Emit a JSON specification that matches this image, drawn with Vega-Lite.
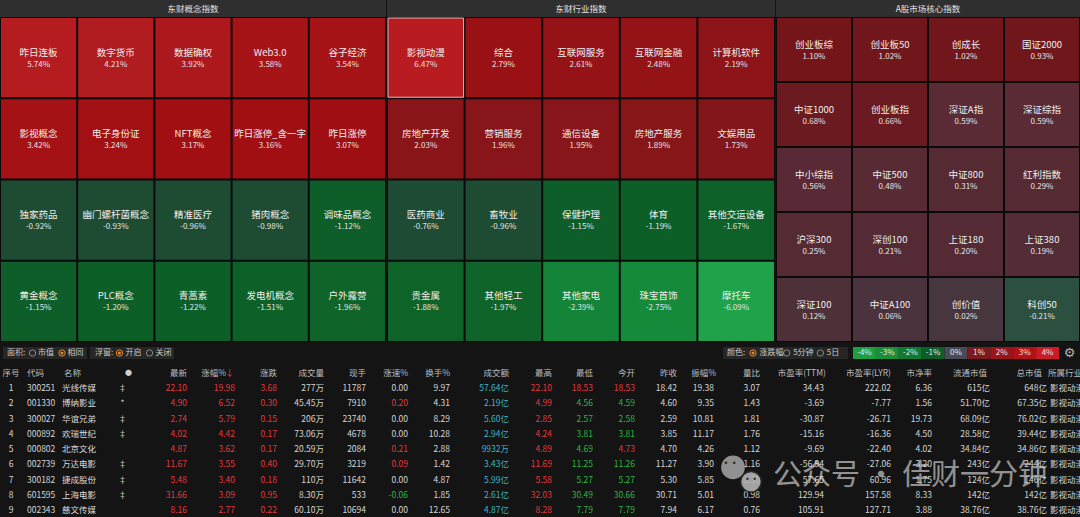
{
"$schema": "https://vega.github.io/schema/vega-lite/v6.json",
"background": "#141414",
"padding": 0,
"spacing": 0,
"config": {"font": "Noto Sans CJK SC", "view": {"stroke": null}, "axis": {"disable": true}, "legend": {"disable": true}},
"datasets": {
 "concept": [
  {"name": "昨日连板", "pct": 5.74}, {"name": "数字货币", "pct": 4.21}, {"name": "数据确权", "pct": 3.92}, {"name": "Web3.0", "pct": 3.58}, {"name": "谷子经济", "pct": 3.54},
  {"name": "影视概念", "pct": 3.42}, {"name": "电子身份证", "pct": 3.24}, {"name": "NFT概念", "pct": 3.17}, {"name": "昨日涨停_含一字", "pct": 3.16}, {"name": "昨日涨停", "pct": 3.07},
  {"name": "独家药品", "pct": -0.92}, {"name": "幽门螺杆菌概念", "pct": -0.93}, {"name": "精准医疗", "pct": -0.96}, {"name": "猪肉概念", "pct": -0.98}, {"name": "调味品概念", "pct": -1.12},
  {"name": "黄金概念", "pct": -1.15}, {"name": "PLC概念", "pct": -1.20}, {"name": "青蒿素", "pct": -1.22}, {"name": "发电机概念", "pct": -1.51}, {"name": "户外露营", "pct": -1.96}
 ],
 "industry": [
  {"name": "影视动漫", "pct": 6.47}, {"name": "综合", "pct": 2.79}, {"name": "互联网服务", "pct": 2.61}, {"name": "互联网金融", "pct": 2.48}, {"name": "计算机软件", "pct": 2.19},
  {"name": "房地产开发", "pct": 2.03}, {"name": "营销服务", "pct": 1.96}, {"name": "通信设备", "pct": 1.95}, {"name": "房地产服务", "pct": 1.89}, {"name": "文娱用品", "pct": 1.73},
  {"name": "医药商业", "pct": -0.76}, {"name": "畜牧业", "pct": -0.96}, {"name": "保健护理", "pct": -1.15}, {"name": "体育", "pct": -1.19}, {"name": "其他交运设备", "pct": -1.67},
  {"name": "贵金属", "pct": -1.88}, {"name": "其他轻工", "pct": -1.97}, {"name": "其他家电", "pct": -2.39}, {"name": "珠宝首饰", "pct": -2.75}, {"name": "摩托车", "pct": -6.09}
 ],
 "core": [
  {"name": "创业板综", "pct": 1.10}, {"name": "创业板50", "pct": 1.02}, {"name": "创成长", "pct": 1.02}, {"name": "国证2000", "pct": 0.93},
  {"name": "中证1000", "pct": 0.68}, {"name": "创业板指", "pct": 0.66}, {"name": "深证A指", "pct": 0.59}, {"name": "深证综指", "pct": 0.59},
  {"name": "中小综指", "pct": 0.56}, {"name": "中证500", "pct": 0.48}, {"name": "中证800", "pct": 0.31}, {"name": "红利指数", "pct": 0.29},
  {"name": "沪深300", "pct": 0.25}, {"name": "深创100", "pct": 0.21}, {"name": "上证180", "pct": 0.20}, {"name": "上证380", "pct": 0.19},
  {"name": "深证100", "pct": 0.12}, {"name": "中证A100", "pct": 0.06}, {"name": "创价值", "pct": 0.02}, {"name": "科创50", "pct": -0.21}
 ],
 "stocks": [
  {"no": 1, "code": "300251", "name": "光线传媒", "flag": "‡", "last": "22.10", "chg_pct": "19.98", "chg": "3.68", "vol": "277万", "cur_vol": "11787", "speed": "0.00", "turnover": "9.97", "amount": "57.64亿", "high": "22.10", "low": "18.53", "open": "18.53", "prev": "18.42", "amp": "19.38", "vol_ratio": "3.07", "pe_ttm": "34.43", "pe_lyr": "222.02", "pb": "6.36", "float_cap": "615亿", "total_cap": "648亿", "industry": "影视动漫"},
  {"no": 2, "code": "001330", "name": "博纳影业", "flag": "*", "last": "4.90", "chg_pct": "6.52", "chg": "0.30", "vol": "45.45万", "cur_vol": "7910", "speed": "0.20", "turnover": "4.31", "amount": "2.19亿", "high": "4.99", "low": "4.56", "open": "4.59", "prev": "4.60", "amp": "9.35", "vol_ratio": "1.43", "pe_ttm": "-3.69", "pe_lyr": "-7.77", "pb": "1.56", "float_cap": "51.70亿", "total_cap": "67.35亿", "industry": "影视动漫"},
  {"no": 3, "code": "300027", "name": "华谊兄弟", "flag": "‡", "last": "2.74", "chg_pct": "5.79", "chg": "0.15", "vol": "206万", "cur_vol": "23740", "speed": "0.00", "turnover": "8.29", "amount": "5.60亿", "high": "2.85", "low": "2.57", "open": "2.58", "prev": "2.59", "amp": "10.81", "vol_ratio": "1.81", "pe_ttm": "-30.87", "pe_lyr": "-26.71", "pb": "19.73", "float_cap": "68.09亿", "total_cap": "76.02亿", "industry": "影视动漫"},
  {"no": 4, "code": "000892", "name": "欢瑞世纪", "flag": "‡", "last": "4.02", "chg_pct": "4.42", "chg": "0.17", "vol": "73.06万", "cur_vol": "4678", "speed": "0.00", "turnover": "10.28", "amount": "2.94亿", "high": "4.24", "low": "3.81", "open": "3.81", "prev": "3.85", "amp": "11.17", "vol_ratio": "1.76", "pe_ttm": "-15.16", "pe_lyr": "-16.36", "pb": "4.50", "float_cap": "28.58亿", "total_cap": "39.44亿", "industry": "影视动漫"},
  {"no": 5, "code": "000802", "name": "北京文化", "flag": "", "last": "4.87", "chg_pct": "3.62", "chg": "0.17", "vol": "20.59万", "cur_vol": "2084", "speed": "0.21", "turnover": "2.88", "amount": "9932万", "high": "4.89", "low": "4.69", "open": "4.73", "prev": "4.70", "amp": "4.26", "vol_ratio": "1.12", "pe_ttm": "-9.69", "pe_lyr": "-22.40", "pb": "4.02", "float_cap": "34.84亿", "total_cap": "34.86亿", "industry": "影视动漫"},
  {"no": 6, "code": "002739", "name": "万达电影", "flag": "‡", "last": "11.67", "chg_pct": "3.55", "chg": "0.40", "vol": "29.70万", "cur_vol": "3219", "speed": "0.09", "turnover": "1.42", "amount": "3.43亿", "high": "11.69", "low": "11.25", "open": "11.26", "prev": "11.27", "amp": "3.90", "vol_ratio": "1.16", "pe_ttm": "-56.94", "pe_lyr": "-27.06", "pb": "3.20", "float_cap": "243亿", "total_cap": "244亿", "industry": "影视动漫"},
  {"no": 7, "code": "300182", "name": "捷成股份", "flag": "‡", "last": "5.48", "chg_pct": "3.40", "chg": "0.18", "vol": "110万", "cur_vol": "11642", "speed": "0.00", "turnover": "4.87", "amount": "5.99亿", "high": "5.58", "low": "5.27", "open": "5.27", "prev": "5.30", "amp": "5.85", "vol_ratio": "1.30", "pe_ttm": "57.65", "pe_lyr": "60.96", "pb": "1.75", "float_cap": "124亿", "total_cap": "146亿", "industry": "影视动漫"},
  {"no": 8, "code": "601595", "name": "上海电影", "flag": "‡", "last": "31.66", "chg_pct": "3.09", "chg": "0.95", "vol": "8.30万", "cur_vol": "533", "speed": "-0.06", "turnover": "1.85", "amount": "2.61亿", "high": "32.03", "low": "30.49", "open": "30.66", "prev": "30.71", "amp": "5.01", "vol_ratio": "0.98", "pe_ttm": "129.94", "pe_lyr": "157.58", "pb": "8.33", "float_cap": "142亿", "total_cap": "142亿", "industry": "影视动漫"},
  {"no": 9, "code": "002343", "name": "慈文传媒", "flag": "", "last": "8.16", "chg_pct": "2.77", "chg": "0.22", "vol": "60.10万", "cur_vol": "10694", "speed": "0.00", "turnover": "12.65", "amount": "4.87亿", "high": "8.28", "low": "7.79", "open": "7.79", "prev": "7.94", "amp": "6.17", "vol_ratio": "0.76", "pe_ttm": "105.91", "pe_lyr": "127.71", "pb": "3.88", "float_cap": "38.76亿", "total_cap": "38.76亿", "industry": "影视动漫"}
 ]
},
"vconcat": [
 {"hconcat": [
  {"vconcat": [
   {"width": 386, "height": 17, "view": {"fill": "#2f2f2f"}, "data": {"values": [{"t": "东财概念指数"}]}, "mark": {"type": "text", "fontSize": 8.5, "color": "#e2e2e2"}, "encoding": {"text": {"field": "t"}}},
   {"width": 386, "height": 325, "view": {"fill": "#0b0b0b"}, "data": {"name": "concept"},
    "transform": [{"window": [{"op": "row_number", "as": "rank"}]}, {"calculate": "(datum.rank - 1) % 5", "as": "col"}, {"calculate": "floor((datum.rank - 1) / 5)", "as": "row"}, {"calculate": "(datum.pct < 0 ? '-' : '') + format(abs(datum.pct), '.2f') + '%'", "as": "label"}],
    "encoding": {"x": {"field": "col", "type": "ordinal", "axis": null, "scale": {"paddingInner": 0.026, "paddingOuter": 0.013}}, "y": {"field": "row", "type": "ordinal", "axis": null, "scale": {"paddingInner": 0.025, "paddingOuter": 0.0125}}},
    "layer": [
     {"mark": {"type": "rect"}, "encoding": {"color": {"field": "pct", "type": "quantitative", "legend": null, "scale": {"type": "linear", "interpolate": "rgb", "domain": [-6.1, -2.7, -2.3, -2.0, -1.1, -1.0, -0.7, -0.3, 0, 0.22, 0.6, 0.64, 1.1, 1.75, 2.6, 3.1, 4.2, 6.5], "range": ["#1fa24a", "#168a3b", "#138437", "#0e6429", "#0d5e28", "#1d4c33", "#1e4b34", "#1f5a3f", "#46373f", "#552a33", "#5a2a35", "#6a1a20", "#731519", "#84161a", "#951316", "#a00e12", "#b01c20", "#b81c20"]}}}},
     {"mark": {"type": "text", "dy": -5, "fontSize": 9.5, "color": "#eeeeee"}, "encoding": {"text": {"field": "name"}}},
     {"mark": {"type": "text", "dy": 7, "fontSize": 8, "color": "#e2e2e2"}, "encoding": {"text": {"field": "label"}}}
    ]}
  ], "spacing": 0, "bounds": "flush"},
  {"vconcat": [
   {"width": 388, "height": 17, "view": {"fill": "#2f2f2f"}, "data": {"values": [{"t": "东财行业指数"}]}, "mark": {"type": "text", "fontSize": 8.5, "color": "#e2e2e2"}, "encoding": {"text": {"field": "t"}}},
   {"width": 388, "height": 325, "view": {"fill": "#0b0b0b"}, "data": {"name": "industry"},
    "transform": [{"window": [{"op": "row_number", "as": "rank"}]}, {"calculate": "(datum.rank - 1) % 5", "as": "col"}, {"calculate": "floor((datum.rank - 1) / 5)", "as": "row"}, {"calculate": "(datum.pct < 0 ? '-' : '') + format(abs(datum.pct), '.2f') + '%'", "as": "label"}],
    "encoding": {"x": {"field": "col", "type": "ordinal", "axis": null, "scale": {"paddingInner": 0.026, "paddingOuter": 0.013}}, "y": {"field": "row", "type": "ordinal", "axis": null, "scale": {"paddingInner": 0.025, "paddingOuter": 0.0125}}},
    "layer": [
     {"mark": {"type": "rect"}, "encoding": {"color": {"field": "pct", "type": "quantitative", "legend": null, "scale": {"type": "linear", "interpolate": "rgb", "domain": [-6.1, -2.7, -2.3, -2.0, -1.1, -1.0, -0.7, -0.3, 0, 0.22, 0.6, 0.64, 1.1, 1.75, 2.6, 3.1, 4.2, 6.5], "range": ["#1fa24a", "#168a3b", "#138437", "#0e6429", "#0d5e28", "#1d4c33", "#1e4b34", "#1f5a3f", "#46373f", "#552a33", "#5a2a35", "#6a1a20", "#731519", "#84161a", "#951316", "#a00e12", "#b01c20", "#b81c20"]}}}},
     {"transform": [{"filter": "datum.name === '影视动漫'"}], "mark": {"type": "rect", "filled": false, "stroke": "#dcbcbc", "strokeWidth": 1}},
     {"mark": {"type": "text", "dy": -5, "fontSize": 9.5, "color": "#eeeeee"}, "encoding": {"text": {"field": "name"}}},
     {"mark": {"type": "text", "dy": 7, "fontSize": 8, "color": "#e2e2e2"}, "encoding": {"text": {"field": "label"}}}
    ]}
  ], "spacing": 0, "bounds": "flush"},
  {"vconcat": [
   {"width": 304, "height": 17, "view": {"fill": "#2f2f2f"}, "data": {"values": [{"t": "A股市场核心指数"}]}, "mark": {"type": "text", "fontSize": 8.5, "color": "#e2e2e2"}, "encoding": {"text": {"field": "t"}}},
   {"width": 304, "height": 325, "view": {"fill": "#0b0b0b"}, "data": {"name": "core"},
    "transform": [{"window": [{"op": "row_number", "as": "rank"}]}, {"calculate": "(datum.rank - 1) % 4", "as": "col"}, {"calculate": "floor((datum.rank - 1) / 4)", "as": "row"}, {"calculate": "(datum.pct < 0 ? '-' : '') + format(abs(datum.pct), '.2f') + '%'", "as": "label"}],
    "encoding": {"x": {"field": "col", "type": "ordinal", "axis": null, "scale": {"paddingInner": 0.026, "paddingOuter": 0.013}}, "y": {"field": "row", "type": "ordinal", "axis": null, "scale": {"paddingInner": 0.03, "paddingOuter": 0.015}}},
    "layer": [
     {"mark": {"type": "rect"}, "encoding": {"color": {"field": "pct", "type": "quantitative", "legend": null, "scale": {"type": "linear", "interpolate": "rgb", "domain": [-6.1, -2.7, -2.3, -2.0, -1.1, -1.0, -0.7, -0.3, 0, 0.22, 0.6, 0.64, 1.1, 1.75, 2.6, 3.1, 4.2, 6.5], "range": ["#1fa24a", "#168a3b", "#138437", "#0e6429", "#0d5e28", "#1d4c33", "#1e4b34", "#1f5a3f", "#46373f", "#552a33", "#5a2a35", "#6a1a20", "#731519", "#84161a", "#951316", "#a00e12", "#b01c20", "#b81c20"]}}}},
     {"mark": {"type": "text", "dy": -5, "fontSize": 9.5, "color": "#eeeeee"}, "encoding": {"text": {"field": "name"}}},
     {"mark": {"type": "text", "dy": 7, "fontSize": 8, "color": "#e2e2e2"}, "encoding": {"text": {"field": "label"}}}
    ]}
  ], "spacing": 0, "bounds": "flush"}
 ], "spacing": 1},
 {"vconcat": [
  {"width": 1080, "height": 5, "data": {"values": []}, "mark": "text", "encoding": {}},
  {"hconcat": [
   {"width": 3, "height": 12, "data": {"values": []}, "mark": "text", "encoding": {}},
   {"width": 25, "height": 12, "view": {"fill": "#262626"}, "data": {"values": [{"t": "面积:"}]}, "mark": {"type": "text", "align": "left", "dx": 4, "fontSize": 8, "color": "#c8c8c8"}, "encoding": {"x": {"field": "t", "type": "nominal", "axis": null, "scale": {"type": "point", "padding": 0, "align": 0}}, "text": {"field": "t"}}},
   {"width": 59, "height": 12, "view": {"fill": "#262626"}, "data": {"values": [{"item": "市值", "on": false}, {"item": "相同", "on": true}]},
    "encoding": {"x": {"field": "item", "type": "nominal", "sort": null, "axis": null, "scale": {"type": "point", "padding": 0.5, "align": 0}}},
    "layer": [
     {"mark": {"type": "point", "shape": "circle", "size": 40, "filled": false, "strokeWidth": 1, "xOffset": 4.5, "opacity": 1}, "encoding": {"stroke": {"condition": {"test": "datum.on", "value": "#e8892b"}, "value": "#8a8a8a"}}},
     {"transform": [{"filter": "datum.on"}], "mark": {"type": "point", "shape": "circle", "size": 10, "filled": true, "color": "#e8892b", "xOffset": 4.5, "opacity": 1}},
     {"mark": {"type": "text", "align": "left", "dx": 10, "fontSize": 8, "color": "#c8c8c8"}, "encoding": {"text": {"field": "item"}}}
    ]},
   {"width": 3, "height": 12, "data": {"values": []}, "mark": "text", "encoding": {}},
   {"width": 24, "height": 12, "view": {"fill": "#262626"}, "data": {"values": [{"t": "浮窗:"}]}, "mark": {"type": "text", "align": "left", "dx": 5, "fontSize": 8, "color": "#c8c8c8"}, "encoding": {"x": {"field": "t", "type": "nominal", "axis": null, "scale": {"type": "point", "padding": 0, "align": 0}}, "text": {"field": "t"}}},
   {"width": 60, "height": 12, "view": {"fill": "#262626"}, "data": {"values": [{"item": "开启", "on": true}, {"item": "关闭", "on": false}]},
    "encoding": {"x": {"field": "item", "type": "nominal", "sort": null, "axis": null, "scale": {"type": "point", "padding": 0.5, "align": 0}}},
    "layer": [
     {"mark": {"type": "point", "shape": "circle", "size": 40, "filled": false, "strokeWidth": 1, "xOffset": 5.5, "opacity": 1}, "encoding": {"stroke": {"condition": {"test": "datum.on", "value": "#e8892b"}, "value": "#8a8a8a"}}},
     {"transform": [{"filter": "datum.on"}], "mark": {"type": "point", "shape": "circle", "size": 10, "filled": true, "color": "#e8892b", "xOffset": 5.5, "opacity": 1}},
     {"mark": {"type": "text", "align": "left", "dx": 11.5, "fontSize": 8, "color": "#c8c8c8"}, "encoding": {"text": {"field": "item"}}}
    ]},
   {"width": 549, "height": 12, "data": {"values": []}, "mark": "text", "encoding": {}},
   {"width": 24, "height": 12, "view": {"fill": "#262626"}, "data": {"values": [{"t": "颜色:"}]}, "mark": {"type": "text", "align": "left", "dx": 4, "fontSize": 8, "color": "#c8c8c8"}, "encoding": {"x": {"field": "t", "type": "nominal", "axis": null, "scale": {"type": "point", "padding": 0, "align": 0}}, "text": {"field": "t"}}},
   {"width": 101, "height": 12, "view": {"fill": "#262626"}, "data": {"values": [{"item": "涨跌幅", "on": true}, {"item": "5分钟", "on": false}, {"item": "5日", "on": false}]},
    "encoding": {"x": {"field": "item", "type": "nominal", "sort": null, "axis": null, "scale": {"type": "point", "padding": 0.5, "align": 0}}},
    "layer": [
     {"mark": {"type": "point", "shape": "circle", "size": 40, "filled": false, "strokeWidth": 1, "xOffset": 6, "opacity": 1}, "encoding": {"stroke": {"condition": {"test": "datum.on", "value": "#e8892b"}, "value": "#8a8a8a"}}},
     {"transform": [{"filter": "datum.on"}], "mark": {"type": "point", "shape": "circle", "size": 10, "filled": true, "color": "#e8892b", "xOffset": 6, "opacity": 1}},
     {"mark": {"type": "text", "align": "left", "dx": 12.5, "fontSize": 8, "color": "#c8c8c8"}, "encoding": {"text": {"field": "item"}}}
    ]},
   {"width": 5, "height": 12, "data": {"values": []}, "mark": "text", "encoding": {}},
   {"width": 206, "height": 12, "data": {"values": [{"lab": "-4%"}, {"lab": "-3%"}, {"lab": "-2%"}, {"lab": "-1%"}, {"lab": "0%"}, {"lab": "1%"}, {"lab": "2%"}, {"lab": "3%"}, {"lab": "4%"}]},
    "encoding": {"x": {"field": "lab", "type": "nominal", "sort": null, "axis": null, "scale": {"paddingInner": 0, "paddingOuter": 0}}},
    "layer": [
     {"mark": {"type": "rect"}, "encoding": {"color": {"field": "lab", "type": "nominal", "legend": null, "scale": {"domain": ["-4%", "-3%", "-2%", "-1%", "0%", "1%", "2%", "3%", "4%"], "range": ["#1f9e40", "#188f38", "#0f7a30", "#0c5f27", "#4a4a56", "#7a1a1e", "#9a1518", "#b3121a", "#cc1b22"]}}}},
     {"mark": {"type": "text", "fontSize": 8, "color": "#e6e6e6"}, "encoding": {"text": {"field": "lab"}}}
    ]},
   {"width": 21, "height": 12, "data": {"values": [{"g": "⚙"}]}, "mark": {"type": "text", "font": "DejaVu Sans", "fontSize": 13, "color": "#b4b4b4"}, "encoding": {"text": {"field": "g"}}}
  ], "spacing": 0, "bounds": "flush"},
  {"width": 1080, "height": 5, "data": {"values": []}, "mark": "text", "encoding": {}}
 ], "spacing": 0},
 {"hconcat": [
  {"width": 22, "height": 153, "layer": [
   {"data": {"values": [{"k": "no", "label": "序号"}]}, "mark": {"type": "text", "fontSize": 8.5, "color": "#bdbdbd"}, "encoding": {"x": {"field": "k", "type": "nominal", "axis": null}, "y": {"datum": 0, "type": "ordinal", "axis": null}, "text": {"field": "label"}}},
   {"data": {"name": "stocks"}, "transform": [{"fold": ["no"], "as": ["k", "v"]}], "mark": {"type": "text", "fontSize": 8.5, "color": "#d4d4d4"}, "encoding": {"x": {"field": "k", "type": "nominal", "axis": null}, "y": {"field": "no", "type": "ordinal", "axis": null, "scale": {"domain": [0,1,2,3,4,5,6,7,8,9], "paddingInner": 0, "paddingOuter": 0}}, "text": {"field": "v"}}}
  ]},
  {"width": 38, "height": 153, "layer": [
   {"data": {"values": [{"k": "code", "label": "代码"}]}, "mark": {"type": "text", "align": "left", "dx": 5, "fontSize": 8.5, "color": "#bdbdbd"}, "encoding": {"x": {"field": "k", "type": "nominal", "axis": null, "scale": {"type": "point", "padding": 0, "align": 0}}, "y": {"datum": 0, "type": "ordinal", "axis": null}, "text": {"field": "label"}}},
   {"data": {"name": "stocks"}, "transform": [{"fold": ["code"], "as": ["k", "v"]}], "mark": {"type": "text", "align": "left", "dx": 5, "fontSize": 8.5, "color": "#d4d4d4"}, "encoding": {"x": {"field": "k", "type": "nominal", "axis": null, "scale": {"type": "point", "padding": 0, "align": 0}}, "y": {"field": "no", "type": "ordinal", "axis": null, "scale": {"domain": [0,1,2,3,4,5,6,7,8,9], "paddingInner": 0, "paddingOuter": 0}}, "text": {"field": "v"}}}
  ]},
  {"width": 45, "height": 153, "layer": [
   {"data": {"values": [{"k": "name", "label": "名称"}]}, "mark": {"type": "text", "align": "left", "dx": 4, "fontSize": 8.5, "color": "#bdbdbd"}, "encoding": {"x": {"field": "k", "type": "nominal", "axis": null, "scale": {"type": "point", "padding": 0, "align": 0}}, "y": {"datum": 0, "type": "ordinal", "axis": null}, "text": {"field": "label"}}},
   {"data": {"name": "stocks"}, "transform": [{"fold": ["name"], "as": ["k", "v"]}], "mark": {"type": "text", "align": "left", "dx": 2, "fontSize": 8.5, "color": "#dcdcdc"}, "encoding": {"x": {"field": "k", "type": "nominal", "axis": null, "scale": {"type": "point", "padding": 0, "align": 0}}, "y": {"field": "no", "type": "ordinal", "axis": null, "scale": {"domain": [0,1,2,3,4,5,6,7,8,9], "paddingInner": 0, "paddingOuter": 0}}, "text": {"field": "v"}}}
  ]},
  {"width": 35, "height": 153, "layer": [
   {"data": {"values": [{"k": "flag", "label": "●"}]}, "mark": {"type": "text", "dx": 6, "fontSize": 7, "color": "#cfcfcf"}, "encoding": {"x": {"field": "k", "type": "nominal", "axis": null}, "y": {"datum": 0, "type": "ordinal", "axis": null}, "text": {"field": "label"}}},
   {"data": {"name": "stocks"}, "transform": [{"fold": ["flag"], "as": ["k", "v"]}], "mark": {"type": "text", "fontSize": 8.5, "color": "#c4c4c4"}, "encoding": {"x": {"field": "k", "type": "nominal", "axis": null}, "y": {"field": "no", "type": "ordinal", "axis": null, "scale": {"domain": [0,1,2,3,4,5,6,7,8,9], "paddingInner": 0, "paddingOuter": 0}}, "text": {"field": "v"}}}
  ]},
  {"width": 50, "height": 153, "layer": [
   {"data": {"values": [{"k": "last", "label": "最新"}]}, "mark": {"type": "text", "align": "right", "dx": -3, "fontSize": 8.5, "color": "#bdbdbd"}, "encoding": {"x": {"field": "k", "type": "nominal", "axis": null, "scale": {"type": "point", "padding": 0, "align": 1}}, "y": {"datum": 0, "type": "ordinal", "axis": null}, "text": {"field": "label"}}},
   {"data": {"name": "stocks"}, "transform": [{"fold": ["last"], "as": ["k", "v"]}], "mark": {"type": "text", "align": "right", "dx": -3, "fontSize": 8.5}, "encoding": {"x": {"field": "k", "type": "nominal", "axis": null, "scale": {"type": "point", "padding": 0, "align": 1}}, "y": {"field": "no", "type": "ordinal", "axis": null, "scale": {"domain": [0,1,2,3,4,5,6,7,8,9], "paddingInner": 0, "paddingOuter": 0}}, "text": {"field": "v"}, "color": {"condition": [{"test": "toNumber(datum.v) > toNumber(datum.prev)", "value": "#e0383e"}, {"test": "toNumber(datum.v) < toNumber(datum.prev)", "value": "#2fb344"}], "value": "#d4d4d4"}}}
  ]},
  {"width": 48, "height": 153, "layer": [
   {"data": {"values": [{"k": "chg_pct", "label": "涨幅%"}]}, "mark": {"type": "text", "align": "right", "dx": -12, "fontSize": 8.5, "color": "#bdbdbd"}, "encoding": {"x": {"field": "k", "type": "nominal", "axis": null, "scale": {"type": "point", "padding": 0, "align": 1}}, "y": {"datum": 0, "type": "ordinal", "axis": null}, "text": {"field": "label"}}},
   {"data": {"values": [{"k": "chg_pct", "label": "↓"}]}, "mark": {"type": "text", "align": "right", "dx": -4, "fontSize": 9, "color": "#e0383e"}, "encoding": {"x": {"field": "k", "type": "nominal", "axis": null, "scale": {"type": "point", "padding": 0, "align": 1}}, "y": {"datum": 0, "type": "ordinal", "axis": null}, "text": {"field": "label"}}},
   {"data": {"name": "stocks"}, "transform": [{"fold": ["chg_pct"], "as": ["k", "v"]}], "mark": {"type": "text", "align": "right", "dx": -3, "fontSize": 8.5}, "encoding": {"x": {"field": "k", "type": "nominal", "axis": null, "scale": {"type": "point", "padding": 0, "align": 1}}, "y": {"field": "no", "type": "ordinal", "axis": null, "scale": {"domain": [0,1,2,3,4,5,6,7,8,9], "paddingInner": 0, "paddingOuter": 0}}, "text": {"field": "v"}, "color": {"condition": [{"test": "toNumber(datum.v) > 0", "value": "#e0383e"}, {"test": "toNumber(datum.v) < 0", "value": "#2fb344"}], "value": "#d4d4d4"}}}
  ]},
  {"width": 42, "height": 153, "layer": [
   {"data": {"values": [{"k": "chg", "label": "涨跌"}]}, "mark": {"type": "text", "align": "right", "dx": -3, "fontSize": 8.5, "color": "#bdbdbd"}, "encoding": {"x": {"field": "k", "type": "nominal", "axis": null, "scale": {"type": "point", "padding": 0, "align": 1}}, "y": {"datum": 0, "type": "ordinal", "axis": null}, "text": {"field": "label"}}},
   {"data": {"name": "stocks"}, "transform": [{"fold": ["chg"], "as": ["k", "v"]}], "mark": {"type": "text", "align": "right", "dx": -3, "fontSize": 8.5}, "encoding": {"x": {"field": "k", "type": "nominal", "axis": null, "scale": {"type": "point", "padding": 0, "align": 1}}, "y": {"field": "no", "type": "ordinal", "axis": null, "scale": {"domain": [0,1,2,3,4,5,6,7,8,9], "paddingInner": 0, "paddingOuter": 0}}, "text": {"field": "v"}, "color": {"condition": [{"test": "toNumber(datum.v) > 0", "value": "#e0383e"}, {"test": "toNumber(datum.v) < 0", "value": "#2fb344"}], "value": "#d4d4d4"}}}
  ]},
  {"width": 47, "height": 153, "layer": [
   {"data": {"values": [{"k": "vol", "label": "成交量"}]}, "mark": {"type": "text", "align": "right", "dx": -3, "fontSize": 8.5, "color": "#bdbdbd"}, "encoding": {"x": {"field": "k", "type": "nominal", "axis": null, "scale": {"type": "point", "padding": 0, "align": 1}}, "y": {"datum": 0, "type": "ordinal", "axis": null}, "text": {"field": "label"}}},
   {"data": {"name": "stocks"}, "transform": [{"fold": ["vol"], "as": ["k", "v"]}], "mark": {"type": "text", "align": "right", "dx": -3, "fontSize": 8.5, "color": "#d4d4d4"}, "encoding": {"x": {"field": "k", "type": "nominal", "axis": null, "scale": {"type": "point", "padding": 0, "align": 1}}, "y": {"field": "no", "type": "ordinal", "axis": null, "scale": {"domain": [0,1,2,3,4,5,6,7,8,9], "paddingInner": 0, "paddingOuter": 0}}, "text": {"field": "v"}}}
  ]},
  {"width": 42, "height": 153, "layer": [
   {"data": {"values": [{"k": "cur_vol", "label": "现手"}]}, "mark": {"type": "text", "align": "right", "dx": -3, "fontSize": 8.5, "color": "#bdbdbd"}, "encoding": {"x": {"field": "k", "type": "nominal", "axis": null, "scale": {"type": "point", "padding": 0, "align": 1}}, "y": {"datum": 0, "type": "ordinal", "axis": null}, "text": {"field": "label"}}},
   {"data": {"name": "stocks"}, "transform": [{"fold": ["cur_vol"], "as": ["k", "v"]}], "mark": {"type": "text", "align": "right", "dx": -3, "fontSize": 8.5, "color": "#d4d4d4"}, "encoding": {"x": {"field": "k", "type": "nominal", "axis": null, "scale": {"type": "point", "padding": 0, "align": 1}}, "y": {"field": "no", "type": "ordinal", "axis": null, "scale": {"domain": [0,1,2,3,4,5,6,7,8,9], "paddingInner": 0, "paddingOuter": 0}}, "text": {"field": "v"}}}
  ]},
  {"width": 42, "height": 153, "layer": [
   {"data": {"values": [{"k": "speed", "label": "涨速%"}]}, "mark": {"type": "text", "align": "right", "dx": -3, "fontSize": 8.5, "color": "#bdbdbd"}, "encoding": {"x": {"field": "k", "type": "nominal", "axis": null, "scale": {"type": "point", "padding": 0, "align": 1}}, "y": {"datum": 0, "type": "ordinal", "axis": null}, "text": {"field": "label"}}},
   {"data": {"name": "stocks"}, "transform": [{"fold": ["speed"], "as": ["k", "v"]}], "mark": {"type": "text", "align": "right", "dx": -3, "fontSize": 8.5}, "encoding": {"x": {"field": "k", "type": "nominal", "axis": null, "scale": {"type": "point", "padding": 0, "align": 1}}, "y": {"field": "no", "type": "ordinal", "axis": null, "scale": {"domain": [0,1,2,3,4,5,6,7,8,9], "paddingInner": 0, "paddingOuter": 0}}, "text": {"field": "v"}, "color": {"condition": [{"test": "toNumber(datum.v) > 0", "value": "#e0383e"}, {"test": "toNumber(datum.v) < 0", "value": "#2fb344"}], "value": "#d4d4d4"}}}
  ]},
  {"width": 42, "height": 153, "layer": [
   {"data": {"values": [{"k": "turnover", "label": "换手%"}]}, "mark": {"type": "text", "align": "right", "dx": -3, "fontSize": 8.5, "color": "#bdbdbd"}, "encoding": {"x": {"field": "k", "type": "nominal", "axis": null, "scale": {"type": "point", "padding": 0, "align": 1}}, "y": {"datum": 0, "type": "ordinal", "axis": null}, "text": {"field": "label"}}},
   {"data": {"name": "stocks"}, "transform": [{"fold": ["turnover"], "as": ["k", "v"]}], "mark": {"type": "text", "align": "right", "dx": -3, "fontSize": 8.5, "color": "#d4d4d4"}, "encoding": {"x": {"field": "k", "type": "nominal", "axis": null, "scale": {"type": "point", "padding": 0, "align": 1}}, "y": {"field": "no", "type": "ordinal", "axis": null, "scale": {"domain": [0,1,2,3,4,5,6,7,8,9], "paddingInner": 0, "paddingOuter": 0}}, "text": {"field": "v"}}}
  ]},
  {"width": 59, "height": 153, "layer": [
   {"data": {"values": [{"k": "amount", "label": "成交额"}]}, "mark": {"type": "text", "align": "right", "dx": -3, "fontSize": 8.5, "color": "#bdbdbd"}, "encoding": {"x": {"field": "k", "type": "nominal", "axis": null, "scale": {"type": "point", "padding": 0, "align": 1}}, "y": {"datum": 0, "type": "ordinal", "axis": null}, "text": {"field": "label"}}},
   {"data": {"name": "stocks"}, "transform": [{"fold": ["amount"], "as": ["k", "v"]}], "mark": {"type": "text", "align": "right", "dx": -3, "fontSize": 8.5, "color": "#3eb3c0"}, "encoding": {"x": {"field": "k", "type": "nominal", "axis": null, "scale": {"type": "point", "padding": 0, "align": 1}}, "y": {"field": "no", "type": "ordinal", "axis": null, "scale": {"domain": [0,1,2,3,4,5,6,7,8,9], "paddingInner": 0, "paddingOuter": 0}}, "text": {"field": "v"}}}
  ]},
  {"width": 43, "height": 153, "layer": [
   {"data": {"values": [{"k": "high", "label": "最高"}]}, "mark": {"type": "text", "align": "right", "dx": -3, "fontSize": 8.5, "color": "#bdbdbd"}, "encoding": {"x": {"field": "k", "type": "nominal", "axis": null, "scale": {"type": "point", "padding": 0, "align": 1}}, "y": {"datum": 0, "type": "ordinal", "axis": null}, "text": {"field": "label"}}},
   {"data": {"name": "stocks"}, "transform": [{"fold": ["high"], "as": ["k", "v"]}], "mark": {"type": "text", "align": "right", "dx": -3, "fontSize": 8.5}, "encoding": {"x": {"field": "k", "type": "nominal", "axis": null, "scale": {"type": "point", "padding": 0, "align": 1}}, "y": {"field": "no", "type": "ordinal", "axis": null, "scale": {"domain": [0,1,2,3,4,5,6,7,8,9], "paddingInner": 0, "paddingOuter": 0}}, "text": {"field": "v"}, "color": {"condition": [{"test": "toNumber(datum.v) > toNumber(datum.prev)", "value": "#e0383e"}, {"test": "toNumber(datum.v) < toNumber(datum.prev)", "value": "#2fb344"}], "value": "#d4d4d4"}}}
  ]},
  {"width": 41, "height": 153, "layer": [
   {"data": {"values": [{"k": "low", "label": "最低"}]}, "mark": {"type": "text", "align": "right", "dx": -3, "fontSize": 8.5, "color": "#bdbdbd"}, "encoding": {"x": {"field": "k", "type": "nominal", "axis": null, "scale": {"type": "point", "padding": 0, "align": 1}}, "y": {"datum": 0, "type": "ordinal", "axis": null}, "text": {"field": "label"}}},
   {"data": {"name": "stocks"}, "transform": [{"fold": ["low"], "as": ["k", "v"]}], "mark": {"type": "text", "align": "right", "dx": -3, "fontSize": 8.5}, "encoding": {"x": {"field": "k", "type": "nominal", "axis": null, "scale": {"type": "point", "padding": 0, "align": 1}}, "y": {"field": "no", "type": "ordinal", "axis": null, "scale": {"domain": [0,1,2,3,4,5,6,7,8,9], "paddingInner": 0, "paddingOuter": 0}}, "text": {"field": "v"}, "color": {"condition": [{"test": "toNumber(datum.v) > toNumber(datum.prev)", "value": "#e0383e"}, {"test": "toNumber(datum.v) < toNumber(datum.prev)", "value": "#2fb344"}], "value": "#d4d4d4"}}}
  ]},
  {"width": 42, "height": 153, "layer": [
   {"data": {"values": [{"k": "open", "label": "今开"}]}, "mark": {"type": "text", "align": "right", "dx": -3, "fontSize": 8.5, "color": "#bdbdbd"}, "encoding": {"x": {"field": "k", "type": "nominal", "axis": null, "scale": {"type": "point", "padding": 0, "align": 1}}, "y": {"datum": 0, "type": "ordinal", "axis": null}, "text": {"field": "label"}}},
   {"data": {"name": "stocks"}, "transform": [{"fold": ["open"], "as": ["k", "v"]}], "mark": {"type": "text", "align": "right", "dx": -3, "fontSize": 8.5}, "encoding": {"x": {"field": "k", "type": "nominal", "axis": null, "scale": {"type": "point", "padding": 0, "align": 1}}, "y": {"field": "no", "type": "ordinal", "axis": null, "scale": {"domain": [0,1,2,3,4,5,6,7,8,9], "paddingInner": 0, "paddingOuter": 0}}, "text": {"field": "v"}, "color": {"condition": [{"test": "toNumber(datum.v) > toNumber(datum.prev)", "value": "#e0383e"}, {"test": "toNumber(datum.v) < toNumber(datum.prev)", "value": "#2fb344"}], "value": "#d4d4d4"}}}
  ]},
  {"width": 42, "height": 153, "layer": [
   {"data": {"values": [{"k": "prev", "label": "昨收"}]}, "mark": {"type": "text", "align": "right", "dx": -3, "fontSize": 8.5, "color": "#bdbdbd"}, "encoding": {"x": {"field": "k", "type": "nominal", "axis": null, "scale": {"type": "point", "padding": 0, "align": 1}}, "y": {"datum": 0, "type": "ordinal", "axis": null}, "text": {"field": "label"}}},
   {"data": {"name": "stocks"}, "transform": [{"fold": ["prev"], "as": ["k", "v"]}], "mark": {"type": "text", "align": "right", "dx": -3, "fontSize": 8.5, "color": "#d4d4d4"}, "encoding": {"x": {"field": "k", "type": "nominal", "axis": null, "scale": {"type": "point", "padding": 0, "align": 1}}, "y": {"field": "no", "type": "ordinal", "axis": null, "scale": {"domain": [0,1,2,3,4,5,6,7,8,9], "paddingInner": 0, "paddingOuter": 0}}, "text": {"field": "v"}}}
  ]},
  {"width": 37, "height": 153, "layer": [
   {"data": {"values": [{"k": "amp", "label": "振幅%"}]}, "mark": {"type": "text", "align": "right", "dx": -1, "fontSize": 8.5, "color": "#bdbdbd"}, "encoding": {"x": {"field": "k", "type": "nominal", "axis": null, "scale": {"type": "point", "padding": 0, "align": 1}}, "y": {"datum": 0, "type": "ordinal", "axis": null}, "text": {"field": "label"}}},
   {"data": {"name": "stocks"}, "transform": [{"fold": ["amp"], "as": ["k", "v"]}], "mark": {"type": "text", "align": "right", "dx": -3, "fontSize": 8.5, "color": "#d4d4d4"}, "encoding": {"x": {"field": "k", "type": "nominal", "axis": null, "scale": {"type": "point", "padding": 0, "align": 1}}, "y": {"field": "no", "type": "ordinal", "axis": null, "scale": {"domain": [0,1,2,3,4,5,6,7,8,9], "paddingInner": 0, "paddingOuter": 0}}, "text": {"field": "v"}}}
  ]},
  {"width": 46, "height": 153, "layer": [
   {"data": {"values": [{"k": "vol_ratio", "label": "量比"}]}, "mark": {"type": "text", "align": "right", "dx": -3, "fontSize": 8.5, "color": "#bdbdbd"}, "encoding": {"x": {"field": "k", "type": "nominal", "axis": null, "scale": {"type": "point", "padding": 0, "align": 1}}, "y": {"datum": 0, "type": "ordinal", "axis": null}, "text": {"field": "label"}}},
   {"data": {"name": "stocks"}, "transform": [{"fold": ["vol_ratio"], "as": ["k", "v"]}], "mark": {"type": "text", "align": "right", "dx": -3, "fontSize": 8.5, "color": "#d4d4d4"}, "encoding": {"x": {"field": "k", "type": "nominal", "axis": null, "scale": {"type": "point", "padding": 0, "align": 1}}, "y": {"field": "no", "type": "ordinal", "axis": null, "scale": {"domain": [0,1,2,3,4,5,6,7,8,9], "paddingInner": 0, "paddingOuter": 0}}, "text": {"field": "v"}}},
   {"data": {"values": [{"k": "vol_ratio", "part": "big"}]}, "mark": {"type": "point", "shape": "circle", "filled": true, "size": 560, "color": "#a6a6a6", "opacity": 0.85, "xOffset": -30, "yOffset": 3}, "encoding": {"x": {"field": "k", "type": "nominal", "axis": null, "scale": {"type": "point", "padding": 0, "align": 1}}, "y": {"datum": 6, "type": "ordinal", "axis": null}}},
   {"data": {"values": [{"k": "vol_ratio", "part": "small"}]}, "mark": {"type": "point", "shape": "circle", "filled": true, "size": 430, "color": "#b2b2b2", "opacity": 0.9, "stroke": "#2a2a2a", "strokeWidth": 1.5, "xOffset": -12, "yOffset": 2}, "encoding": {"x": {"field": "k", "type": "nominal", "axis": null, "scale": {"type": "point", "padding": 0, "align": 1}}, "y": {"datum": 7, "type": "ordinal", "axis": null}}},
   {"data": {"values": [{"k": "vol_ratio", "t": "• •"}]}, "mark": {"type": "text", "fontSize": 9, "color": "#333333", "dx": -33, "dy": -1, "font": "DejaVu Sans"}, "encoding": {"x": {"field": "k", "type": "nominal", "axis": null, "scale": {"type": "point", "padding": 0, "align": 1}}, "y": {"datum": 6, "type": "ordinal", "axis": null}, "text": {"field": "t"}}},
   {"data": {"values": [{"k": "vol_ratio", "t": "• •"}]}, "mark": {"type": "text", "fontSize": 8, "color": "#333333", "dx": -12, "dy": 0, "font": "DejaVu Sans"}, "encoding": {"x": {"field": "k", "type": "nominal", "axis": null, "scale": {"type": "point", "padding": 0, "align": 1}}, "y": {"datum": 7, "type": "ordinal", "axis": null}, "text": {"field": "t"}}}
  ]},
  {"width": 64, "height": 153, "layer": [
   {"data": {"values": [{"k": "pe_ttm", "label": "市盈率(TTM)"}]}, "mark": {"type": "text", "align": "right", "dx": -1, "fontSize": 8.5, "color": "#bdbdbd"}, "encoding": {"x": {"field": "k", "type": "nominal", "axis": null, "scale": {"type": "point", "padding": 0, "align": 1}}, "y": {"datum": 0, "type": "ordinal", "axis": null}, "text": {"field": "label"}}},
   {"data": {"name": "stocks"}, "transform": [{"fold": ["pe_ttm"], "as": ["k", "v"]}], "mark": {"type": "text", "align": "right", "dx": -3, "fontSize": 8.5, "color": "#d4d4d4"}, "encoding": {"x": {"field": "k", "type": "nominal", "axis": null, "scale": {"type": "point", "padding": 0, "align": 1}}, "y": {"field": "no", "type": "ordinal", "axis": null, "scale": {"domain": [0,1,2,3,4,5,6,7,8,9], "paddingInner": 0, "paddingOuter": 0}}, "text": {"field": "v"}}},
   {"data": {"values": [{"k": "pe_ttm", "w": "公众号 · 佳财一分钟"}]}, "mark": {"type": "text", "align": "left", "dx": -54, "dy": -4, "fontSize": 29, "color": "#e6e6e6", "opacity": 0.6}, "encoding": {"x": {"field": "k", "type": "nominal", "axis": null, "scale": {"type": "point", "padding": 0, "align": 1}}, "y": {"datum": 7, "type": "ordinal", "axis": null}, "text": {"field": "w"}}}
  ]},
  {"width": 67, "height": 153, "layer": [
   {"data": {"values": [{"k": "pe_lyr", "label": "市盈率(LYR)"}]}, "mark": {"type": "text", "align": "right", "dx": -3, "fontSize": 8.5, "color": "#bdbdbd"}, "encoding": {"x": {"field": "k", "type": "nominal", "axis": null, "scale": {"type": "point", "padding": 0, "align": 1}}, "y": {"datum": 0, "type": "ordinal", "axis": null}, "text": {"field": "label"}}},
   {"data": {"name": "stocks"}, "transform": [{"fold": ["pe_lyr"], "as": ["k", "v"]}], "mark": {"type": "text", "align": "right", "dx": -3, "fontSize": 8.5, "color": "#d4d4d4"}, "encoding": {"x": {"field": "k", "type": "nominal", "axis": null, "scale": {"type": "point", "padding": 0, "align": 1}}, "y": {"field": "no", "type": "ordinal", "axis": null, "scale": {"domain": [0,1,2,3,4,5,6,7,8,9], "paddingInner": 0, "paddingOuter": 0}}, "text": {"field": "v"}}}
  ]},
  {"width": 41, "height": 153, "layer": [
   {"data": {"values": [{"k": "pb", "label": "市净率"}]}, "mark": {"type": "text", "align": "right", "dx": -3, "fontSize": 8.5, "color": "#bdbdbd"}, "encoding": {"x": {"field": "k", "type": "nominal", "axis": null, "scale": {"type": "point", "padding": 0, "align": 1}}, "y": {"datum": 0, "type": "ordinal", "axis": null}, "text": {"field": "label"}}},
   {"data": {"name": "stocks"}, "transform": [{"fold": ["pb"], "as": ["k", "v"]}], "mark": {"type": "text", "align": "right", "dx": -3, "fontSize": 8.5, "color": "#d4d4d4"}, "encoding": {"x": {"field": "k", "type": "nominal", "axis": null, "scale": {"type": "point", "padding": 0, "align": 1}}, "y": {"field": "no", "type": "ordinal", "axis": null, "scale": {"domain": [0,1,2,3,4,5,6,7,8,9], "paddingInner": 0, "paddingOuter": 0}}, "text": {"field": "v"}}}
  ]},
  {"width": 58, "height": 153, "layer": [
   {"data": {"values": [{"k": "float_cap", "label": "流通市值"}]}, "mark": {"type": "text", "align": "right", "dx": -6, "fontSize": 8.5, "color": "#bdbdbd"}, "encoding": {"x": {"field": "k", "type": "nominal", "axis": null, "scale": {"type": "point", "padding": 0, "align": 1}}, "y": {"datum": 0, "type": "ordinal", "axis": null}, "text": {"field": "label"}}},
   {"data": {"name": "stocks"}, "transform": [{"fold": ["float_cap"], "as": ["k", "v"]}], "mark": {"type": "text", "align": "right", "dx": -3, "fontSize": 8.5, "color": "#d4d4d4"}, "encoding": {"x": {"field": "k", "type": "nominal", "axis": null, "scale": {"type": "point", "padding": 0, "align": 1}}, "y": {"field": "no", "type": "ordinal", "axis": null, "scale": {"domain": [0,1,2,3,4,5,6,7,8,9], "paddingInner": 0, "paddingOuter": 0}}, "text": {"field": "v"}}}
  ]},
  {"width": 55, "height": 153, "layer": [
   {"data": {"values": [{"k": "total_cap", "label": "总市值"}]}, "mark": {"type": "text", "align": "right", "dx": -6, "fontSize": 8.5, "color": "#bdbdbd"}, "encoding": {"x": {"field": "k", "type": "nominal", "axis": null, "scale": {"type": "point", "padding": 0, "align": 1}}, "y": {"datum": 0, "type": "ordinal", "axis": null}, "text": {"field": "label"}}},
   {"data": {"name": "stocks"}, "transform": [{"fold": ["total_cap"], "as": ["k", "v"]}], "mark": {"type": "text", "align": "right", "dx": -1, "fontSize": 8.5, "color": "#d4d4d4"}, "encoding": {"x": {"field": "k", "type": "nominal", "axis": null, "scale": {"type": "point", "padding": 0, "align": 1}}, "y": {"field": "no", "type": "ordinal", "axis": null, "scale": {"domain": [0,1,2,3,4,5,6,7,8,9], "paddingInner": 0, "paddingOuter": 0}}, "text": {"field": "v"}}}
  ]},
  {"width": 32, "height": 153, "layer": [
   {"data": {"values": [{"k": "industry", "label": "所属行业"}]}, "mark": {"type": "text", "align": "left", "dx": 0, "fontSize": 8.5, "color": "#bdbdbd", "clip": true}, "encoding": {"x": {"field": "k", "type": "nominal", "axis": null, "scale": {"type": "point", "padding": 0, "align": 0}}, "y": {"datum": 0, "type": "ordinal", "axis": null}, "text": {"field": "label"}}},
   {"data": {"name": "stocks"}, "transform": [{"fold": ["industry"], "as": ["k", "v"]}], "mark": {"type": "text", "align": "left", "dx": 2, "fontSize": 8.5, "color": "#d4d4d4", "clip": true}, "encoding": {"x": {"field": "k", "type": "nominal", "axis": null, "scale": {"type": "point", "padding": 0, "align": 0}}, "y": {"field": "no", "type": "ordinal", "axis": null, "scale": {"domain": [0,1,2,3,4,5,6,7,8,9], "paddingInner": 0, "paddingOuter": 0}}, "text": {"field": "v"}}}
  ]}
 ], "spacing": 0, "bounds": "flush"}
]
}
